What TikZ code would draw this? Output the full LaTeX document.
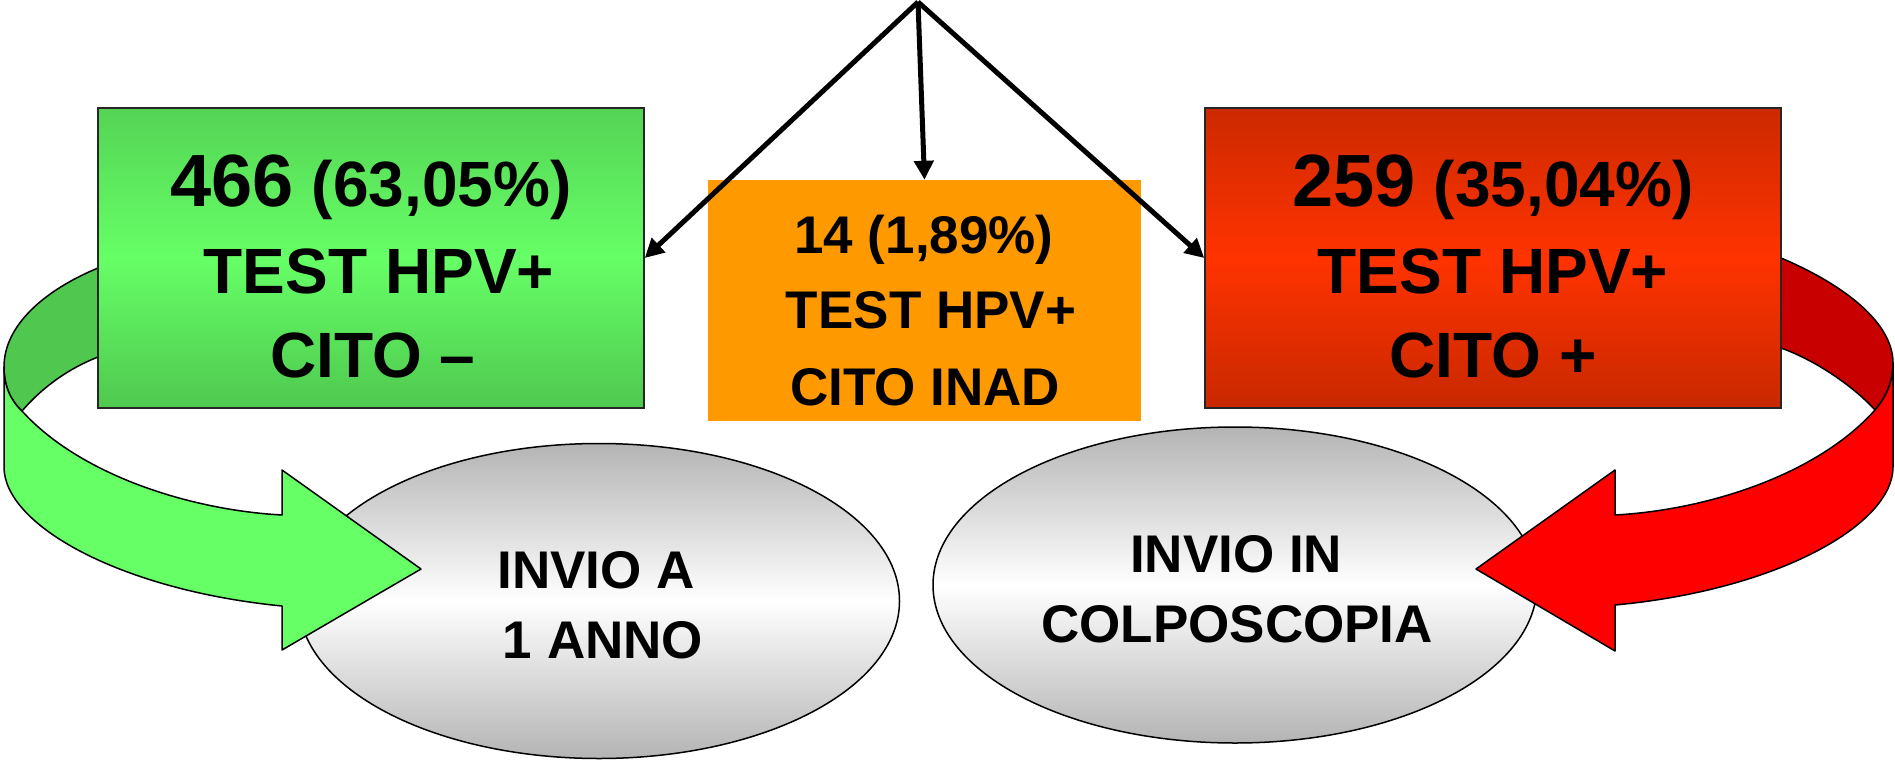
\documentclass[tikz,border=0pt]{standalone}
\usepackage{fontspec}
\setmainfont{Liberation Sans}
\usetikzlibrary{arrows.meta,shapes.geometric}
\definecolor{gback}{HTML}{50C850}
\definecolor{gfront}{HTML}{66FF66}
\definecolor{gtop}{HTML}{55D455}
\definecolor{gbot}{HTML}{4FC84F}
\definecolor{rback}{HTML}{C80000}
\definecolor{rfront}{HTML}{FF0000}
\definecolor{rtop}{HTML}{CC2900}
\definecolor{rmid}{HTML}{FF3300}
\definecolor{rbot}{HTML}{C82800}
\definecolor{orng}{HTML}{FF9900}
\definecolor{egray}{HTML}{B4B4B4}
\begin{document}
\begin{tikzpicture}[x=1pt,y=-1pt,
  outl/.style={draw=black,line width=1.5pt,line join=round},
  box/.style={draw=black!85,line width=1.5pt,rectangle,inner sep=0pt},
  oval/.style={ellipse,draw=black,line width=1.5pt,inner sep=0pt,top color=egray,bottom color=egray,middle color=white},
  big/.style={font=\bfseries\fontsize{64}{64}\selectfont,inner sep=0pt,anchor=base},
  mid/.style={font=\bfseries\fontsize{53}{53}\selectfont,inner sep=0pt,anchor=base},
  link/.style={line width=5pt,-{Triangle[length=19pt,width=19pt]}}
]
\useasboundingbox (0,0) rectangle (1895,760);

% back parts of the curved arrows
\draw[outl,fill=gback] (98,268) .. controls (45,290) and (4,325) .. (4,367)
  .. controls (4,385) and (10,400) .. (22,411)
  .. controls (40,390) and (65,370) .. (98,357) -- (130,357) -- (130,268) -- cycle;
\draw[outl,fill=rback] (1781,258) .. controls (1838,282) and (1893,320) .. (1893,363)
  .. controls (1893,381) and (1887,396) .. (1875,410)
  .. controls (1857,390) and (1820,362) .. (1781,348) -- (1750,348) -- (1750,258) -- cycle;

% boxes
\node[box, minimum width=546pt, minimum height=300pt, top color=gtop, bottom color=gbot, middle color=gfront] (gbox) at (371,258) {};
\node[box, minimum width=576pt, minimum height=300pt, top color=rtop, bottom color=rbot, middle color=rmid] (rbox) at (1493,258) {};
\node[rectangle, fill=orng, inner sep=0pt, minimum width=433pt, minimum height=241pt] (obox) at (924.5,300.5) {};

% ellipses
\node[oval, minimum width=601pt, minimum height=315pt] (e1) at (599,601) {};
\node[oval, minimum width=604pt, minimum height=316pt] (e2) at (1235,585) {};

% front faces of the curved arrows
\draw[outl,fill=gfront] (4,367) .. controls (4,385) and (10,400) .. (22,411)
  .. controls (80,475) and (190,510) .. (282,515) -- (282,470) -- (421,569) -- (282,650) -- (282,606)
  .. controls (120,590) and (4,525) .. (4,467) -- cycle;
\draw[outl,fill=rfront] (1893,363) .. controls (1893,381) and (1887,396) .. (1875,410)
  .. controls (1817,475) and (1707,510) .. (1615,515) -- (1615,470) -- (1476,569) -- (1615,651) -- (1615,605)
  .. controls (1777,590) and (1893,525) .. (1893,467) -- cycle;

% connectors from the apex
\coordinate (apex) at (918,2);
\draw[link] (apex) -- (gbox.east);
\draw[link] (apex) -- (obox.north);
\draw[link] (apex) -- (rbox.west);

% texts
\node[big] (g1) at (371,206) {{\fontsize{74}{74}\selectfont 466} (63,05\%)};
\node[big] (g2) at (379,293) {TEST HPV+};
\node[big] (g3) at (373,377) {CITO –};
\node[big] (r1) at (1493,206) {{\fontsize{74}{74}\selectfont 259} (35,04\%)};
\node[big] (r2) at (1493,293) {TEST HPV+};
\node[big] (r3) at (1493,377) {CITO +};
\node[mid] (o1) at (924,253) {14 (1,89\%)};
\node[mid] (o2) at (931,328) {TEST HPV+};
\node[mid] (o3) at (925,405) {CITO INAD};
\node[mid] (e1a) at (596,588) {INVIO A};
\node[mid] (e1b) at (603,658) {1 ANNO};
\node[mid] (e2a) at (1236,572) {INVIO IN};
\node[mid] (e2b) at (1237,642) {COLPOSCOPIA};
\end{tikzpicture}
\end{document}
